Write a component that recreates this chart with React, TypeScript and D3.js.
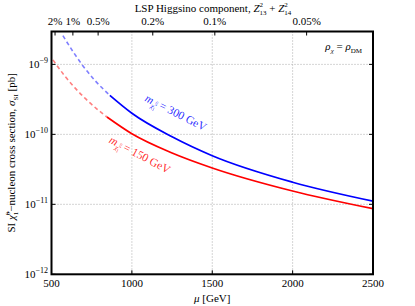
import React from "react";
import * as d3 from "d3";

// ---- data ----
const muBlue = [571, 640, 696, 770, 863, 1000, 1250, 1500, 2000, 2500];
const sigmaBlue = [2.57e-9, 1.45e-9, 9.5e-10, 5.9e-10, 3.6e-10, 2.0e-10, 9.23e-11, 4.95e-11, 2.07e-11, 1.11e-11];
const splitBlue = 863;

const muRed = [509, 584, 646, 708, 783, 845, 1000, 1250, 1500, 2000, 2500];
const sigmaRed = [1.16e-9, 6.76e-10, 4.61e-10, 3.29e-10, 2.3e-10, 1.77e-10, 1.02e-10, 5.42e-11, 3.31e-11, 1.55e-11, 8.65e-12];
const splitRed = 845;

const xTicks = [500, 1000, 1500, 2000, 2500];
const yTickExps = [-12, -11, -10, -9];
const topTickLabels = ["2%", "1%", "0.5%", "0.2%", "0.1%", "0.05%"];
const topTickMu = [522, 633, 790, 1130, 1516, 2087];

const W = 415, H = 306;
const m = { left: 51.5, right: 373, top: 31.5, bottom: 274.3 };
const FONT = "'Liberation Serif', 'DejaVu Serif', serif";

export default function App() {
  const x = d3.scaleLinear().domain([500, 2500]).range([m.left, m.right]);
  const y = d3.scaleLog().domain([1e-12, 2.95e-9]).range([m.bottom, m.top]);

  const line = d3
    .line<[number, number]>()
    .x((d) => x(d[0]))
    .y((d) => y(d[1]))
    .curve(d3.curveMonotoneX);

  const mk = (mu: number[], s: number[]) => mu.map((v, i) => [v, s[i]] as [number, number]);
  const blue = mk(muBlue, sigmaBlue);
  const red = mk(muRed, sigmaRed);
  const blueDash = blue.filter((d) => d[0] <= splitBlue);
  const blueSolid = blue.filter((d) => d[0] >= splitBlue);
  const redDash = red.filter((d) => d[0] <= splitRed);
  const redSolid = red.filter((d) => d[0] >= splitRed);

  const grid = "#aaaaaa";

  return (
    <svg
      width={W}
      height={H}
      style={{ position: "absolute", left: 0, top: 0, background: "#fff" }}
      fontFamily={FONT}
    >
      <defs>
        <clipPath id="plot">
          <rect x={m.left} y={m.top} width={m.right - m.left} height={m.bottom - m.top} />
        </clipPath>
      </defs>

      {/* grid */}
      {xTicks.slice(1, -1).map((t) => (
        <line key={"gx" + t} x1={x(t)} x2={x(t)} y1={m.top} y2={m.bottom} stroke={grid} strokeDasharray="1,2" strokeWidth={1} />
      ))}
      {yTickExps.slice(1).map((e) => (
        <line key={"gy" + e} x1={m.left} x2={m.right} y1={y(Math.pow(10, e))} y2={y(Math.pow(10, e))} stroke={grid} strokeDasharray="1,2" strokeWidth={1} />
      ))}

      {/* curves */}
      <g clipPath="url(#plot)" fill="none">
        <path d={line(blueDash) || ""} stroke="#0000ff" strokeOpacity={0.5} strokeWidth={1.6} strokeDasharray="4,3" />
        <path d={line(redDash) || ""} stroke="#ff0000" strokeOpacity={0.5} strokeWidth={1.6} strokeDasharray="4,3" />
        <path d={line(blueSolid) || ""} stroke="#0000ff" strokeWidth={1.7} />
        <path d={line(redSolid) || ""} stroke="#ff0000" strokeWidth={1.7} />
      </g>

      {/* ticks */}
      {xTicks.map((t) => (
        <g key={"xt" + t}>
          <line x1={x(t)} x2={x(t)} y1={m.bottom} y2={m.bottom - 4} stroke="#000" />
          <text x={x(t)} y={287} textAnchor="middle" fontSize={11}>
            {t}
          </text>
        </g>
      ))}
      {yTickExps.map((e) => (
        <g key={"yt" + e}>
          <line x1={m.left} x2={m.left + 4} y1={y(Math.pow(10, e))} y2={y(Math.pow(10, e))} stroke="#000" />
          <line x1={m.right} x2={m.right - 4} y1={y(Math.pow(10, e))} y2={y(Math.pow(10, e))} stroke="#000" />
          <text x={48} y={y(Math.pow(10, e)) + 4} textAnchor="end" fontSize={11}>
            10
            <tspan fontSize={8} dy={-5}>
              {"\u2212" + Math.abs(e)}
            </tspan>
          </text>
        </g>
      ))}
      {topTickMu.map((t, i) => (
        <g key={"tt" + i}>
          <line x1={x(t)} x2={x(t)} y1={m.top} y2={m.top + 4} stroke="#000" />
          <text x={x(t)} y={25} textAnchor="middle" fontSize={11}>
            {topTickLabels[i]}
          </text>
        </g>
      ))}

      {/* frame */}
      <rect x={m.left} y={m.top} width={m.right - m.left} height={m.bottom - m.top} fill="none" stroke="#000" strokeWidth={2} />

      {/* axis labels */}
      <text x={(m.left + m.right) / 2} y={302} textAnchor="middle" fontSize={11}>
        <tspan fontStyle="italic">μ</tspan> [GeV]
      </text>
      <text x={213} y={12} textAnchor="middle" fontSize={11}>
        LSP Higgsino component,{" "}
        <tspan fontStyle="italic">Z</tspan>
        <tspan fontSize={7} dy={-5}>2</tspan>
        <tspan fontSize={7} dx={-3.5} dy={8}>13</tspan>
        <tspan dy={-3}> + </tspan>
        <tspan fontStyle="italic">Z</tspan>
        <tspan fontSize={7} dy={-5}>2</tspan>
        <tspan fontSize={7} dx={-3.5} dy={8}>14</tspan>
      </text>
      <text transform={`translate(15,${(m.top + m.bottom) / 2}) rotate(-90)`} textAnchor="middle" fontSize={11}>
        SI <tspan fontStyle="italic">χ̃</tspan>
        <tspan fontSize={7} dy={-5}>0</tspan>
        <tspan fontSize={7} dx={-3.5} dy={8}>1</tspan>
        <tspan dy={-3}>−nucleon cross section, </tspan>
        <tspan fontStyle="italic">σ</tspan>
        <tspan fontSize={7} dy={3}>SI</tspan>
        <tspan dy={-3}> [pb]</tspan>
      </text>

      {/* annotation */}
      <text x={362} y={50} textAnchor="end" fontSize={11}>
        <tspan fontStyle="italic">ρ</tspan>
        <tspan fontSize={7} dy={3} fontStyle="italic">χ</tspan>
        <tspan dy={-3}> = </tspan>
        <tspan fontStyle="italic">ρ</tspan>
        <tspan fontSize={7} dy={3}>DM</tspan>
      </text>

      {/* curve labels */}
      <text transform="translate(174,116) rotate(27)" textAnchor="middle" fontSize={11.5} fill="#0000ff" fillOpacity={0.85}>
        <tspan fontStyle="italic">m</tspan>
        <tspan fontSize={7} dy={3} fontStyle="italic">χ̃</tspan>
        <tspan fontSize={5} dy={-5}>0</tspan>
        <tspan fontSize={5} dx={-3} dy={7}>1</tspan>
        <tspan dy={-5}> = 300 GeV</tspan>
      </text>
      <text transform="translate(138,158) rotate(28)" textAnchor="middle" fontSize={11.5} fill="#ff0000" fillOpacity={0.85}>
        <tspan fontStyle="italic">m</tspan>
        <tspan fontSize={7} dy={3} fontStyle="italic">χ̃</tspan>
        <tspan fontSize={5} dy={-5}>0</tspan>
        <tspan fontSize={5} dx={-3} dy={7}>1</tspan>
        <tspan dy={-5}> = 150 GeV</tspan>
      </text>
    </svg>
  );
}
